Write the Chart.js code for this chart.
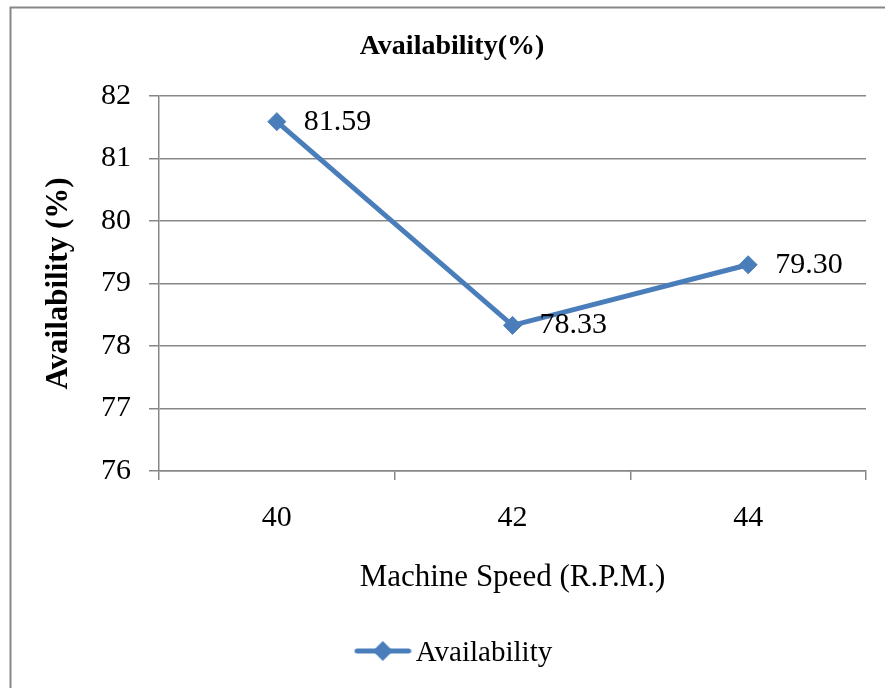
<!DOCTYPE html>
<html>
<head>
<meta charset="utf-8">
<script src="https://cdn.jsdelivr.net/npm/chart.js@4.4.1/dist/chart.umd.min.js"></script>
<style>
  html, body { margin: 0; padding: 0; background: #fff; overflow: hidden; }
  canvas { display: block; }
</style>
</head>
<body>
<canvas id="chart" width="885" height="688"></canvas>
<script>
// Machine speed categories and measured availability
const speeds = ['40', '42', '44'];
const availability = [81.59, 78.33, 79.30];
const yTicks = [76, 77, 78, 79, 80, 81, 82];

const SERIF = "'Liberation Serif', 'Times New Roman', serif";
const LINE_BLUE = '#4A7EBB';
const GRID_GREY = '#878787';

// Legend symbol: a short line with a diamond on it
function legendSymbol() {
  const c = document.createElement('canvas');
  c.width = 70; c.height = 24;
  const g = c.getContext('2d');
  g.strokeStyle = LINE_BLUE;
  g.lineWidth = 5;
  g.lineCap = 'round';
  g.beginPath();
  g.moveTo(15.5, 10); g.lineTo(67, 10);
  g.stroke();
  g.fillStyle = LINE_BLUE;
  g.beginPath();
  g.moveTo(41.25 - 10, 10); g.lineTo(41.25, 0); g.lineTo(41.25 + 10, 10); g.lineTo(41.25, 20);
  g.closePath();
  g.fill();
  return c;
}

// Outer frame and white background
const framePlugin = {
  id: 'frame',
  beforeDraw(chart) {
    const ctx = chart.ctx;
    ctx.save();
    ctx.fillStyle = '#fff';
    ctx.fillRect(0, 0, chart.width, chart.height);
    ctx.strokeStyle = GRID_GREY;
    ctx.lineWidth = 2;
    ctx.strokeRect(10.5, 7.5, 1000, 1000);
    ctx.restore();
  }
};

// Value labels to the right of each point
const valueLabels = {
  id: 'valueLabels',
  afterDatasetsDraw(chart) {
    const ctx = chart.ctx;
    const meta = chart.getDatasetMeta(0);
    const values = chart.data.datasets[0].data;
    ctx.save();
    ctx.font = '30px ' + SERIF;
    ctx.fillStyle = '#000';
    ctx.textAlign = 'left';
    ctx.textBaseline = 'middle';
    meta.data.forEach((pt, i) => {
      ctx.fillText(values[i].toFixed(2), pt.x + 27, pt.y);
    });
    ctx.restore();
  }
};

new Chart(document.getElementById('chart'), {
  type: 'line',
  data: {
    labels: speeds,
    datasets: [{
      label: 'Availability',
      data: availability,
      borderColor: LINE_BLUE,
      backgroundColor: LINE_BLUE,
      borderWidth: 5,
      tension: 0,
      pointStyle: 'rectRot',
      pointRadius: 9,
      pointHoverRadius: 9,
      pointBorderWidth: 1,
      pointBackgroundColor: LINE_BLUE,
      pointBorderColor: LINE_BLUE
    }]
  },
  options: {
    responsive: false,
    animation: false,
    devicePixelRatio: 1,
    events: [],
    layout: { padding: { left: 38, right: 19, top: 0, bottom: 10.5 } },
    plugins: {
      tooltip: { enabled: false },
      title: {
        display: true,
        text: 'Availability(%)',
        color: '#000',
        font: { family: SERIF, size: 28, weight: 'bold', lineHeight: 1.2 },
        padding: { top: 30.2, bottom: 32.2 }
      },
      legend: {
        display: true,
        position: 'bottom',
        labels: {
          color: '#000',
          font: { family: SERIF, size: 29 },
          usePointStyle: true,
          pointStyle: legendSymbol(),
          pointStyleWidth: 49.5,
          padding: 10
        }
      }
    },
    scales: {
      x: {
        type: 'category',
        offset: true,
        afterFit: s => { s.height = 157.5; },
        border: { display: true, color: GRID_GREY, width: 1.5 },
        grid: {
          offset: true,
          drawOnChartArea: false,
          drawTicks: true,
          tickLength: 9,
          color: GRID_GREY,
          lineWidth: 1.5
        },
        ticks: {
          color: '#000',
          font: { family: SERIF, size: 30, lineHeight: 1.2 },
          padding: 20,
          maxRotation: 0
        },
        title: {
          display: true,
          text: 'Machine Speed (R.P.M.)',
          color: '#000',
          font: { family: SERIF, size: 31, lineHeight: 1.2 },
          padding: { top: 0, bottom: 31.9 }
        }
      },
      y: {
        min: yTicks[0],
        max: yTicks[yTicks.length - 1],
        afterFit: s => { s.width = 121; },
        border: { display: true, color: GRID_GREY, width: 1.5 },
        grid: {
          color: GRID_GREY,
          lineWidth: 1.5,
          drawTicks: true,
          tickLength: 10
        },
        ticks: {
          stepSize: 1,
          color: '#000',
          font: { family: SERIF, size: 30, lineHeight: 1.2 },
          padding: 18
        },
        title: {
          display: true,
          text: 'Availability (%)',
          color: '#000',
          font: { family: SERIF, size: 31, weight: 'bold', lineHeight: 1.2 },
          padding: { top: 2.4, bottom: 0 }
        }
      }
    }
  },
  plugins: [framePlugin, valueLabels]
});
</script>
</body>
</html>
